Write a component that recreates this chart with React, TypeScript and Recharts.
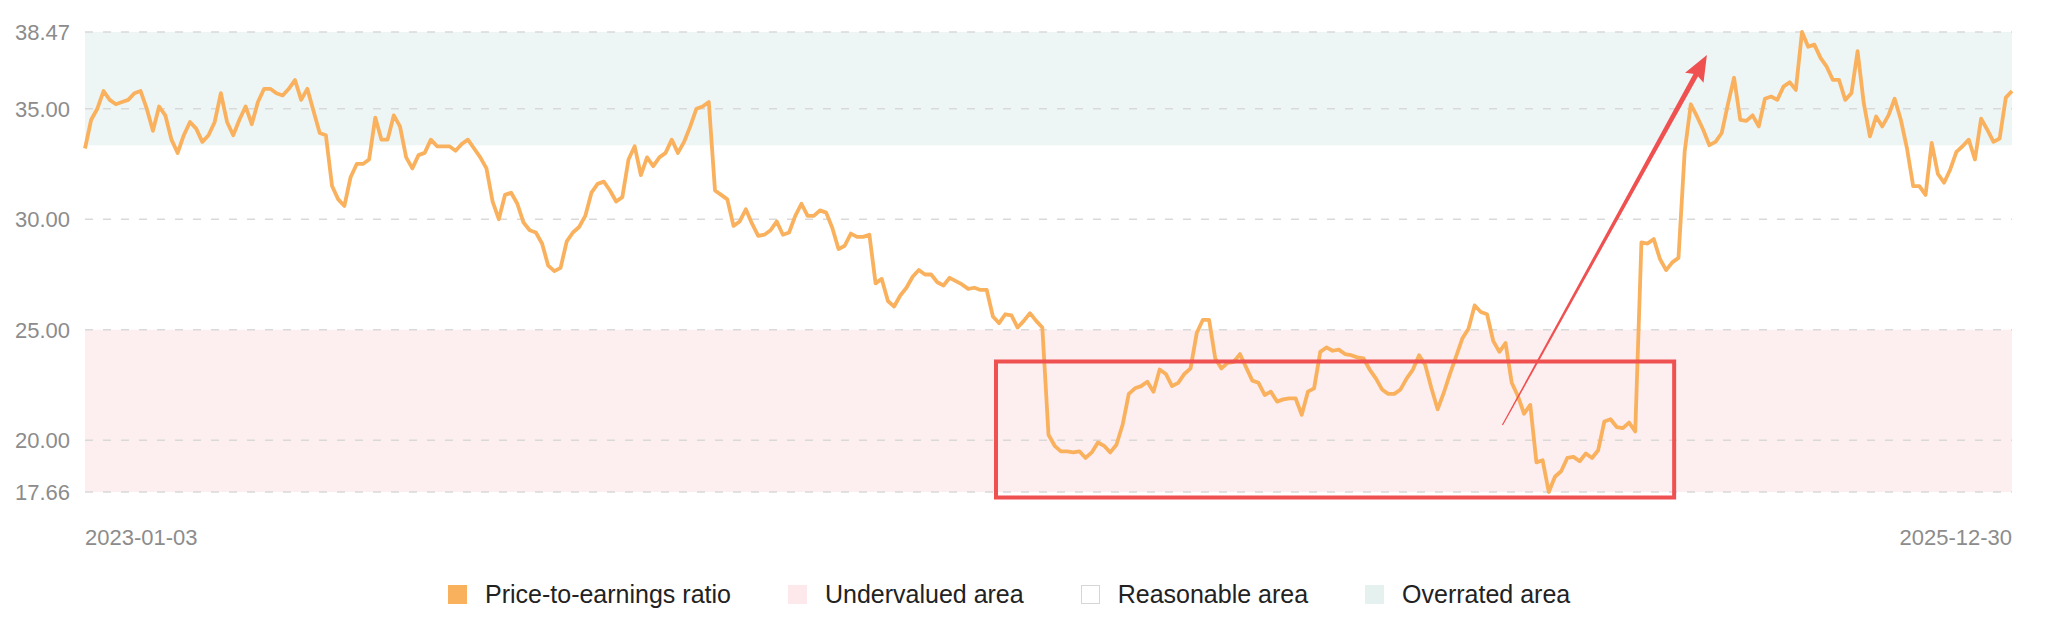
import { LineChart, Line, XAxis, YAxis, CartesianGrid, ReferenceArea, ReferenceLine, Legend } from 'recharts';

// P/E readings, two per week (Tuesday / Friday), 2023-01-03 .. 2025-12-30
const PE = [
  33.2, 34.5, 35.0, 35.8, 35.4, 35.2, 35.3, 35.4, 35.7, 35.8,
  35.0, 34.0, 35.1, 34.7, 33.6, 33.0, 33.8, 34.4, 34.1, 33.5,
  33.8, 34.4, 35.7, 34.4, 33.8, 34.5, 35.1, 34.3, 35.3, 35.9,
  35.9, 35.7, 35.6, 35.9, 36.3, 35.4, 35.9, 34.9, 33.9, 33.8,
  31.5, 30.9, 30.6, 31.9, 32.5, 32.5, 32.7, 34.6, 33.6, 33.6,
  34.7, 34.2, 32.8, 32.3, 32.9, 33.0, 33.6, 33.3, 33.3, 33.3,
  33.1, 33.4, 33.6, 33.2, 32.8, 32.3, 30.8, 30.0, 31.1, 31.2,
  30.7, 29.85, 29.5, 29.4, 28.9, 27.9, 27.65, 27.8, 29.0, 29.4,
  29.65, 30.15, 31.2, 31.6, 31.7, 31.3, 30.8, 31.0, 32.7, 33.3,
  32.0, 32.8, 32.4, 32.8, 33.0, 33.6, 33.0, 33.5, 34.2, 35.0,
  35.1, 35.3, 31.3, 31.1, 30.9, 29.7, 29.9, 30.45, 29.8, 29.25,
  29.3, 29.5, 29.9, 29.3, 29.4, 30.15, 30.7, 30.15, 30.15, 30.4,
  30.3, 29.6, 28.65, 28.8, 29.35, 29.2, 29.2, 29.3, 27.1, 27.3,
  26.3, 26.05, 26.55, 26.9, 27.4, 27.7, 27.5, 27.5, 27.15, 27.0,
  27.35, 27.2, 27.05, 26.85, 26.9, 26.8, 26.8, 25.6, 25.3, 25.7,
  25.65, 25.1, 25.4, 25.75, 25.4, 25.1, 20.25, 19.75, 19.5, 19.5,
  19.45, 19.5, 19.2, 19.45, 19.9, 19.75, 19.45, 19.8, 20.7, 22.1,
  22.35, 22.45, 22.65, 22.2, 23.2, 23.0, 22.45, 22.6, 23.0, 23.25,
  24.85, 25.45, 25.45, 23.7, 23.25, 23.5, 23.55, 23.9, 23.3, 22.7,
  22.6, 22.05, 22.2, 21.75, 21.85, 21.9, 21.9, 21.15, 22.2, 22.35,
  24.0, 24.2, 24.05, 24.1, 23.9, 23.85, 23.75, 23.7, 23.2, 22.8,
  22.3, 22.1, 22.1, 22.3, 22.8, 23.2, 23.85, 23.4, 22.35, 21.4,
  22.15, 23.0, 23.8, 24.6, 25.05, 26.1, 25.8, 25.7, 24.5, 24.0,
  24.4, 22.6, 22.0, 21.2, 21.6, 19.0, 19.1, 17.66, 18.35, 18.6,
  19.2, 19.25, 19.05, 19.4, 19.2, 19.55, 20.85, 20.95, 20.6, 20.55,
  20.8, 20.4, 28.95, 28.9, 29.1, 28.2, 27.7, 28.05, 28.25, 33.05,
  35.2, 34.65, 34.05, 33.35, 33.5, 33.9, 35.2, 36.4, 34.5, 34.45,
  34.7, 34.2, 35.45, 35.55, 35.4, 36.0, 36.2, 35.85, 38.47, 37.8,
  37.9, 37.3, 36.9, 36.3, 36.3, 35.4, 35.7, 37.6, 35.25, 33.75,
  34.65, 34.2, 34.7, 35.45, 34.5, 33.2, 31.5, 31.5, 31.1, 33.45,
  32.05, 31.65, 32.25, 33.05, 33.3, 33.6, 32.7, 34.55, 34.05, 33.5,
  33.65, 35.5, 35.8,
];

const START = Date.UTC(2023, 0, 3);
const DAY = 86400000;
const DATES = PE.map((_, i) =>
  new Date(START + (Math.floor(i / 2) * 7 + (i % 2) * 3) * DAY).toISOString().slice(0, 10)
);

const data = PE.map((pe, i) => ({ i, date: DATES[i], pe }));

const Y_TICKS = [17.66, 20, 25, 30, 35, 38.47];
const X_TICKS = [0, PE.length - 1];
const UNDERVALUED = [17.66, 25];
const OVERRATED = [33.35, 38.47];

// annotation (in data units)
const BOX_X = [147.5, 257.3];
const BOX_Y = [17.41, 23.56];
const ARROW = [{ x: 229.5, y: 20.69 }, { x: 262.6, y: 37.43 }];

const LEGEND = [
  { label: 'Price-to-earnings ratio', color: '#f9b15e' },
  { label: 'Undervalued area', color: '#fde8eb' },
  { label: 'Reasonable area', color: '#ffffff', border: '#d6d6d6' },
  { label: 'Overrated area', color: '#e4f1ee' },
];

const RED = '#ef5050';

function DateTick({ x, y, payload }: any) {
  const first = payload.value === 0;
  return (
    <text x={x} y={y + 45} textAnchor={first ? 'start' : 'end'} dominantBaseline="central" fill="#8c8c8c" fontSize={22}>
      {DATES[payload.value]}
    </text>
  );
}

function Arrow({ x1, y1, x2, y2 }: any) {
  const dx = x2 - x1;
  const dy = y2 - y1;
  const len = Math.hypot(dx, dy);
  const ux = dx / len, uy = dy / len;
  const nx = -uy, ny = ux;
  const headLen = 26, headHalf = 10.5;
  const bx = x2 - ux * headLen, by = y2 - uy * headLen;
  const sx = bx + ux * 6, sy = by + uy * 6;
  const shaft = [
    [x1 + nx * 0.6, y1 + ny * 0.6],
    [sx + nx * 2.6, sy + ny * 2.6],
    [sx - nx * 2.6, sy - ny * 2.6],
    [x1 - nx * 0.6, y1 - ny * 0.6],
  ];
  const head = [
    [x2, y2],
    [bx + nx * headHalf, by + ny * headHalf],
    [bx + ux * 4, by + uy * 4],
    [bx - nx * headHalf, by - ny * headHalf],
  ];
  const pts = (p: number[][]) => p.map((q) => q.join(',')).join(' ');
  return (
    <g>
      <polygon points={pts(shaft)} fill={RED} />
      <polygon points={pts(head)} fill={RED} />
    </g>
  );
}

function LegendContent() {
  return (
    <div style={{ display: 'flex', alignItems: 'center', height: 60, paddingLeft: 448 }}>
      {LEGEND.map((l) => (
        <div key={l.label} style={{ display: 'flex', alignItems: 'center', marginRight: 57 }}>
          <span
            style={{
              width: 19,
              height: 19,
              background: l.color,
              boxSizing: 'border-box',
              border: l.border ? `1px solid ${l.border}` : 'none',
              marginRight: 18,
              display: 'inline-block',
            }}
          />
          <span style={{ fontSize: 25, color: '#222' }}>{l.label}</span>
        </div>
      ))}
    </div>
  );
}

export default function App() {
  return (
    <div
      style={{
        position: 'absolute',
        left: 0,
        top: 0,
        width: 2048,
        height: 644,
        background: '#fff',
        fontFamily: '"Liberation Sans", Arial, Helvetica, sans-serif',
      }}
    >
      <LineChart width={2048} height={644} data={data} margin={{ top: 32, right: 36, left: 0, bottom: 20 }}>
        <ReferenceArea y1={UNDERVALUED[0]} y2={UNDERVALUED[1]} fill="rgb(240,120,140)" fillOpacity={0.13} stroke="none" zIndex={-200} />
        <ReferenceArea y1={OVERRATED[0]} y2={OVERRATED[1]} fill="rgb(120,180,180)" fillOpacity={0.13} stroke="none" zIndex={-200} />
        <CartesianGrid vertical={false} stroke="#d9d9d9" strokeDasharray="8 10" strokeWidth={1.5} />
        <XAxis
          type="number"
          dataKey="i"
          domain={[0, PE.length - 1]}
          ticks={X_TICKS}
          interval={0}
          tickLine={false}
          axisLine={false}
          tickSize={0}
          tickMargin={0}
          height={72}
          tick={<DateTick />}
        />
        <YAxis
          type="number"
          domain={[17.66, 38.47]}
          ticks={Y_TICKS}
          interval={0}
          width={85}
          tickLine={false}
          axisLine={false}
          tickSize={0}
          tickMargin={15}
          tickFormatter={(v: number) => v.toFixed(2)}
          tick={{ fill: '#8c8c8c', fontSize: 22 }}
        />
        <Legend verticalAlign="bottom" content={<LegendContent />} wrapperStyle={{ left: 0, width: 2048, height: 60 }} />
        <Line
          type="linear"
          dataKey="pe"
          stroke="#f9b15e"
          strokeWidth={3.8}
          strokeLinejoin="round"
          dot={false}
          activeDot={false}
          isAnimationActive={false}
        />
        <ReferenceArea
          x1={BOX_X[0]}
          x2={BOX_X[1]}
          y1={BOX_Y[0]}
          y2={BOX_Y[1]}
          fill="none"
          fillOpacity={0}
          stroke={RED}
          strokeWidth={4}
          ifOverflow="visible"
          zIndex={1500}
        />
        <ReferenceLine segment={ARROW} ifOverflow="visible" shape={(p: any) => <Arrow {...p} />} zIndex={1500} />
      </LineChart>
    </div>
  );
}
